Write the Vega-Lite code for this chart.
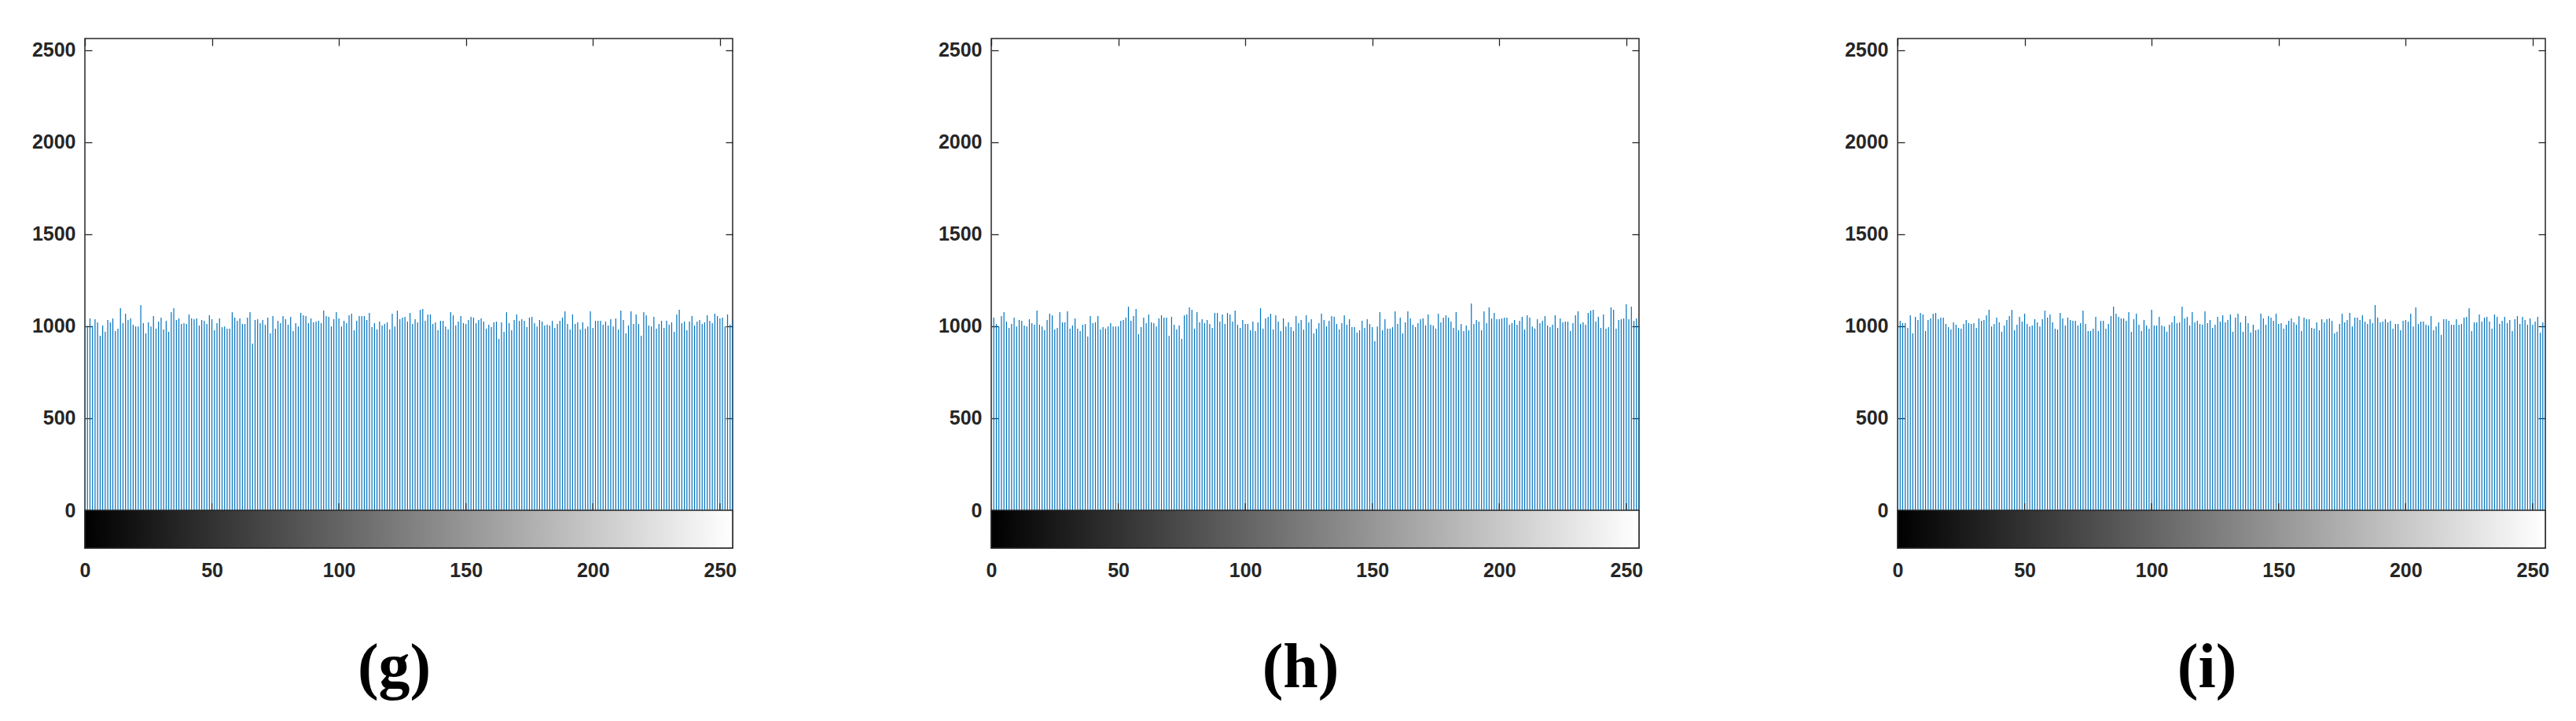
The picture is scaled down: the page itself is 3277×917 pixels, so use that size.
{
"$schema":"https://vega.github.io/schema/vega-lite/v6.json",
"background":"white",
"padding":{"left":39,"top":47,"right":0,"bottom":0},
"config":{
 "view":{"stroke":"#262626","strokeWidth":1.5},
 "axis":{"domain":false,"grid":false,"labelFont":"Liberation Sans","labelFontSize":25,"labelFontWeight":"bold","labelColor":"#262626","tickColor":"#262626","tickSize":-9,"tickWidth":1.3,"title":null,"labelFlush":false,"labelOverlap":false,"minExtent":0}
},
"datasets":{
"ticks":[{"t":50},{"t":100},{"t":150},{"t":200},{"t":250}],
"g":[{"b":0,"c":1031},{"b":1,"c":1002},{"b":2,"c":1042},{"b":3,"c":1002},{"b":4,"c":1038},{"b":5,"c":1021},{"b":6,"c":948},{"b":7,"c":1004},{"b":8,"c":970},{"b":9,"c":1034},
{"b":10,"c":1021},{"b":11,"c":1042},{"b":12,"c":974},{"b":13,"c":987},{"b":14,"c":1098},{"b":15,"c":1017},{"b":16,"c":1068},{"b":17,"c":1034},{"b":18,"c":1042},{"b":19,"c":1008},
{"b":20,"c":999},{"b":21,"c":999},{"b":22,"c":1115},{"b":23,"c":1017},{"b":24,"c":961},{"b":25,"c":1021},{"b":26,"c":999},{"b":27,"c":1055},{"b":28,"c":987},{"b":29,"c":1025},
{"b":30,"c":1047},{"b":31,"c":982},{"b":32,"c":1029},{"b":33,"c":970},{"b":34,"c":1076},{"b":35,"c":1098},{"b":36,"c":1034},{"b":37,"c":1042},{"b":38,"c":1012},{"b":39,"c":1017},
{"b":40,"c":1012},{"b":41,"c":1064},{"b":42,"c":1042},{"b":43,"c":1038},{"b":44,"c":1042},{"b":45,"c":1004},{"b":46,"c":1034},{"b":47,"c":1029},{"b":48,"c":1012},{"b":49,"c":1059},
{"b":50,"c":1038},{"b":51,"c":978},{"b":52,"c":1017},{"b":53,"c":1042},{"b":54,"c":995},{"b":55,"c":999},{"b":56,"c":987},{"b":57,"c":987},{"b":58,"c":1076},{"b":59,"c":1047},
{"b":60,"c":1029},{"b":61,"c":1042},{"b":62,"c":1012},{"b":63,"c":1012},{"b":64,"c":1047},{"b":65,"c":1076},{"b":66,"c":906},{"b":67,"c":1034},{"b":68,"c":1038},{"b":69,"c":1017},
{"b":70,"c":1034},{"b":71,"c":1008},{"b":72,"c":1047},{"b":73,"c":961},{"b":74,"c":1055},{"b":75,"c":987},{"b":76,"c":1029},{"b":77,"c":1017},{"b":78,"c":1055},{"b":79,"c":1038},
{"b":80,"c":1008},{"b":81,"c":1051},{"b":82,"c":974},{"b":83,"c":1017},{"b":84,"c":999},{"b":85,"c":1072},{"b":86,"c":1059},{"b":87,"c":1055},{"b":88,"c":1017},{"b":89,"c":1042},
{"b":90,"c":1021},{"b":91,"c":1025},{"b":92,"c":1029},{"b":93,"c":1017},{"b":94,"c":1085},{"b":95,"c":1055},{"b":96,"c":1051},{"b":97,"c":999},{"b":98,"c":1038},{"b":99,"c":1076},
{"b":100,"c":1042},{"b":101,"c":999},{"b":102,"c":1029},{"b":103,"c":1017},{"b":104,"c":1059},{"b":105,"c":1068},{"b":106,"c":978},{"b":107,"c":1029},{"b":108,"c":1055},{"b":109,"c":1055},
{"b":110,"c":1055},{"b":111,"c":1034},{"b":112,"c":1072},{"b":113,"c":995},{"b":114,"c":1017},{"b":115,"c":982},{"b":116,"c":1025},{"b":117,"c":1004},{"b":118,"c":1012},{"b":119,"c":1021},
{"b":120,"c":982},{"b":121,"c":1068},{"b":122,"c":999},{"b":123,"c":1085},{"b":124,"c":1038},{"b":125,"c":1047},{"b":126,"c":1051},{"b":127,"c":1025},{"b":128,"c":1072},{"b":129,"c":1012},
{"b":130,"c":1038},{"b":131,"c":1021},{"b":132,"c":1089},{"b":133,"c":1094},{"b":134,"c":1029},{"b":135,"c":1064},{"b":136,"c":1064},{"b":137,"c":1012},{"b":138,"c":1021},{"b":139,"c":978},
{"b":140,"c":1029},{"b":141,"c":1029},{"b":142,"c":999},{"b":143,"c":982},{"b":144,"c":1076},{"b":145,"c":1059},{"b":146,"c":1004},{"b":147,"c":1025},{"b":148,"c":1055},{"b":149,"c":1017},
{"b":150,"c":1012},{"b":151,"c":1034},{"b":152,"c":1051},{"b":153,"c":1047},{"b":154,"c":1017},{"b":155,"c":1034},{"b":156,"c":1042},{"b":157,"c":1025},{"b":158,"c":987},{"b":159,"c":1008},
{"b":160,"c":995},{"b":161,"c":1021},{"b":162,"c":1025},{"b":163,"c":931},{"b":164,"c":1021},{"b":165,"c":970},{"b":166,"c":1076},{"b":167,"c":1017},{"b":168,"c":978},{"b":169,"c":1034},
{"b":170,"c":1064},{"b":171,"c":1029},{"b":172,"c":1038},{"b":173,"c":1029},{"b":174,"c":995},{"b":175,"c":1047},{"b":176,"c":1051},{"b":177,"c":1017},{"b":178,"c":999},{"b":179,"c":1034},
{"b":180,"c":1025},{"b":181,"c":1004},{"b":182,"c":1008},{"b":183,"c":1004},{"b":184,"c":1029},{"b":185,"c":991},{"b":186,"c":1012},{"b":187,"c":1029},{"b":188,"c":1047},{"b":189,"c":1081},
{"b":190,"c":1012},{"b":191,"c":982},{"b":192,"c":1064},{"b":193,"c":1012},{"b":194,"c":1021},{"b":195,"c":982},{"b":196,"c":1021},{"b":197,"c":987},{"b":198,"c":999},{"b":199,"c":1081},
{"b":200,"c":991},{"b":201,"c":1029},{"b":202,"c":1029},{"b":203,"c":1029},{"b":204,"c":1008},{"b":205,"c":1025},{"b":206,"c":1004},{"b":207,"c":1038},{"b":208,"c":999},{"b":209,"c":1042},
{"b":210,"c":982},{"b":211,"c":1085},{"b":212,"c":1034},{"b":213,"c":961},{"b":214,"c":1004},{"b":215,"c":1081},{"b":216,"c":1012},{"b":217,"c":1064},{"b":218,"c":1012},{"b":219,"c":948},
{"b":220,"c":1076},{"b":221,"c":1059},{"b":222,"c":1004},{"b":223,"c":999},{"b":224,"c":1051},{"b":225,"c":987},{"b":226,"c":1012},{"b":227,"c":1029},{"b":228,"c":991},{"b":229,"c":1029},
{"b":230,"c":1008},{"b":231,"c":1021},{"b":232,"c":970},{"b":233,"c":1064},{"b":234,"c":1089},{"b":235,"c":1017},{"b":236,"c":1025},{"b":237,"c":978},{"b":238,"c":1025},{"b":239,"c":1055},
{"b":240,"c":1004},{"b":241,"c":1025},{"b":242,"c":1034},{"b":243,"c":1012},{"b":244,"c":1021},{"b":245,"c":1059},{"b":246,"c":1029},{"b":247,"c":1017},{"b":248,"c":1068},{"b":249,"c":1055},
{"b":250,"c":1042},{"b":251,"c":1047},{"b":252,"c":999},{"b":253,"c":1064},{"b":254,"c":1008},{"b":255,"c":1034}],
"h":[{"b":0,"c":1012},{"b":1,"c":1047},{"b":2,"c":1012},{"b":3,"c":999},{"b":4,"c":1055},{"b":5,"c":1076},{"b":6,"c":1025},{"b":7,"c":991},{"b":8,"c":1012},{"b":9,"c":1047},
{"b":10,"c":999},{"b":11,"c":1034},{"b":12,"c":1029},{"b":13,"c":1004},{"b":14,"c":999},{"b":15,"c":1038},{"b":16,"c":1017},{"b":17,"c":1008},{"b":18,"c":1085},{"b":19,"c":1008},
{"b":20,"c":999},{"b":21,"c":978},{"b":22,"c":1034},{"b":23,"c":1068},{"b":24,"c":1059},{"b":25,"c":982},{"b":26,"c":991},{"b":27,"c":1076},{"b":28,"c":1021},{"b":29,"c":1021},
{"b":30,"c":1081},{"b":31,"c":987},{"b":32,"c":1004},{"b":33,"c":1042},{"b":34,"c":987},{"b":35,"c":974},{"b":36,"c":1008},{"b":37,"c":1012},{"b":38,"c":944},{"b":39,"c":1055},
{"b":40,"c":1017},{"b":41,"c":1021},{"b":42,"c":1055},{"b":43,"c":982},{"b":44,"c":995},{"b":45,"c":987},{"b":46,"c":999},{"b":47,"c":1017},{"b":48,"c":999},{"b":49,"c":999},
{"b":50,"c":999},{"b":51,"c":1029},{"b":52,"c":1034},{"b":53,"c":1047},{"b":54,"c":1106},{"b":55,"c":1029},{"b":56,"c":1055},{"b":57,"c":1094},{"b":58,"c":957},{"b":59,"c":995},
{"b":60,"c":1047},{"b":61,"c":1017},{"b":62,"c":1064},{"b":63,"c":1021},{"b":64,"c":1017},{"b":65,"c":999},{"b":66,"c":1042},{"b":67,"c":1059},{"b":68,"c":1047},{"b":69,"c":1047},
{"b":70,"c":948},{"b":71,"c":1051},{"b":72,"c":1008},{"b":73,"c":982},{"b":74,"c":1004},{"b":75,"c":931},{"b":76,"c":1059},{"b":77,"c":1064},{"b":78,"c":1102},{"b":79,"c":1089},
{"b":80,"c":987},{"b":81,"c":1076},{"b":82,"c":1021},{"b":83,"c":1038},{"b":84,"c":1017},{"b":85,"c":1034},{"b":86,"c":1012},{"b":87,"c":991},{"b":88,"c":1072},{"b":89,"c":1072},
{"b":90,"c":1025},{"b":91,"c":1064},{"b":92,"c":1012},{"b":93,"c":1072},{"b":94,"c":1064},{"b":95,"c":1025},{"b":96,"c":1085},{"b":97,"c":1008},{"b":98,"c":991},{"b":99,"c":1034},
{"b":100,"c":1012},{"b":101,"c":1012},{"b":102,"c":978},{"b":103,"c":1025},{"b":104,"c":974},{"b":105,"c":1021},{"b":106,"c":1098},{"b":107,"c":987},{"b":108,"c":1042},{"b":109,"c":1051},
{"b":110,"c":1068},{"b":111,"c":982},{"b":112,"c":1059},{"b":113,"c":1025},{"b":114,"c":974},{"b":115,"c":1042},{"b":116,"c":999},{"b":117,"c":1021},{"b":118,"c":995},{"b":119,"c":974},
{"b":120,"c":1055},{"b":121,"c":1017},{"b":122,"c":1034},{"b":123,"c":982},{"b":124,"c":1059},{"b":125,"c":1021},{"b":126,"c":1038},{"b":127,"c":961},{"b":128,"c":987},{"b":129,"c":1017},
{"b":130,"c":1068},{"b":131,"c":1034},{"b":132,"c":999},{"b":133,"c":1029},{"b":134,"c":1055},{"b":135,"c":1051},{"b":136,"c":1012},{"b":137,"c":982},{"b":138,"c":1017},{"b":139,"c":1059},
{"b":140,"c":1008},{"b":141,"c":1038},{"b":142,"c":995},{"b":143,"c":995},{"b":144,"c":965},{"b":145,"c":978},{"b":146,"c":1029},{"b":147,"c":991},{"b":148,"c":1038},{"b":149,"c":1012},
{"b":150,"c":995},{"b":151,"c":918},{"b":152,"c":999},{"b":153,"c":1076},{"b":154,"c":978},{"b":155,"c":1038},{"b":156,"c":987},{"b":157,"c":987},{"b":158,"c":995},{"b":159,"c":1081},
{"b":160,"c":1012},{"b":161,"c":1047},{"b":162,"c":961},{"b":163,"c":1021},{"b":164,"c":1081},{"b":165,"c":1042},{"b":166,"c":1008},{"b":167,"c":995},{"b":168,"c":1017},{"b":169,"c":1038},
{"b":170,"c":1042},{"b":171,"c":1004},{"b":172,"c":1064},{"b":173,"c":1008},{"b":174,"c":1004},{"b":175,"c":987},{"b":176,"c":1068},{"b":177,"c":1021},{"b":178,"c":1047},{"b":179,"c":1059},
{"b":180,"c":1047},{"b":181,"c":1025},{"b":182,"c":991},{"b":183,"c":1076},{"b":184,"c":978},{"b":185,"c":1012},{"b":186,"c":974},{"b":187,"c":1004},{"b":188,"c":978},{"b":189,"c":1123},
{"b":190,"c":1012},{"b":191,"c":1034},{"b":192,"c":1025},{"b":193,"c":978},{"b":194,"c":1081},{"b":195,"c":1017},{"b":196,"c":1102},{"b":197,"c":1042},{"b":198,"c":1072},{"b":199,"c":1038},
{"b":200,"c":1038},{"b":201,"c":1042},{"b":202,"c":1047},{"b":203,"c":1047},{"b":204,"c":1008},{"b":205,"c":1017},{"b":206,"c":1034},{"b":207,"c":1008},{"b":208,"c":1029},{"b":209,"c":1051},
{"b":210,"c":982},{"b":211,"c":1059},{"b":212,"c":1047},{"b":213,"c":999},{"b":214,"c":987},{"b":215,"c":1038},{"b":216,"c":1017},{"b":217,"c":1029},{"b":218,"c":1055},{"b":219,"c":1004},
{"b":220,"c":995},{"b":221,"c":1008},{"b":222,"c":1059},{"b":223,"c":991},{"b":224,"c":1042},{"b":225,"c":1021},{"b":226,"c":1025},{"b":227,"c":1025},{"b":228,"c":974},{"b":229,"c":1017},
{"b":230,"c":1059},{"b":231,"c":1081},{"b":232,"c":1012},{"b":233,"c":1021},{"b":234,"c":1008},{"b":235,"c":1072},{"b":236,"c":1085},{"b":237,"c":1089},{"b":238,"c":1025},{"b":239,"c":1051},
{"b":240,"c":991},{"b":241,"c":1064},{"b":242,"c":987},{"b":243,"c":995},{"b":244,"c":1102},{"b":245,"c":1089},{"b":246,"c":987},{"b":247,"c":1034},{"b":248,"c":1038},{"b":249,"c":1042},
{"b":250,"c":1119},{"b":251,"c":1038},{"b":252,"c":1106},{"b":253,"c":1029},{"b":254,"c":1042},{"b":255,"c":1004}],
"i":[{"b":0,"c":999},{"b":1,"c":1029},{"b":2,"c":1017},{"b":3,"c":1017},{"b":4,"c":991},{"b":5,"c":1059},{"b":6,"c":961},{"b":7,"c":1051},{"b":8,"c":1034},{"b":9,"c":1072},
{"b":10,"c":1064},{"b":11,"c":974},{"b":12,"c":1034},{"b":13,"c":1042},{"b":14,"c":1068},{"b":15,"c":1072},{"b":16,"c":1038},{"b":17,"c":1047},{"b":18,"c":1047},{"b":19,"c":1012},
{"b":20,"c":995},{"b":21,"c":982},{"b":22,"c":1021},{"b":23,"c":1008},{"b":24,"c":991},{"b":25,"c":987},{"b":26,"c":1012},{"b":27,"c":1034},{"b":28,"c":1017},{"b":29,"c":1012},
{"b":30,"c":1017},{"b":31,"c":991},{"b":32,"c":1042},{"b":33,"c":1029},{"b":34,"c":1034},{"b":35,"c":1059},{"b":36,"c":1089},{"b":37,"c":999},{"b":38,"c":1012},{"b":39,"c":1047},
{"b":40,"c":1021},{"b":41,"c":970},{"b":42,"c":1004},{"b":43,"c":1034},{"b":44,"c":1055},{"b":45,"c":1089},{"b":46,"c":978},{"b":47,"c":1008},{"b":48,"c":1051},{"b":49,"c":1025},
{"b":50,"c":1068},{"b":51,"c":1012},{"b":52,"c":999},{"b":53,"c":1004},{"b":54,"c":1038},{"b":55,"c":1021},{"b":56,"c":999},{"b":57,"c":1038},{"b":58,"c":1085},{"b":59,"c":1047},
{"b":60,"c":1064},{"b":61,"c":1021},{"b":62,"c":987},{"b":63,"c":982},{"b":64,"c":1072},{"b":65,"c":1042},{"b":66,"c":1004},{"b":67,"c":1047},{"b":68,"c":1034},{"b":69,"c":1029},
{"b":70,"c":1029},{"b":71,"c":1004},{"b":72,"c":1017},{"b":73,"c":1085},{"b":74,"c":1012},{"b":75,"c":974},{"b":76,"c":974},{"b":77,"c":987},{"b":78,"c":1051},{"b":79,"c":974},
{"b":80,"c":1029},{"b":81,"c":1029},{"b":82,"c":987},{"b":83,"c":1012},{"b":84,"c":1055},{"b":85,"c":1106},{"b":86,"c":1068},{"b":87,"c":1051},{"b":88,"c":1042},{"b":89,"c":1042},
{"b":90,"c":1029},{"b":91,"c":1076},{"b":92,"c":970},{"b":93,"c":1038},{"b":94,"c":1068},{"b":95,"c":1008},{"b":96,"c":974},{"b":97,"c":1034},{"b":98,"c":1004},{"b":99,"c":987},
{"b":100,"c":1089},{"b":101,"c":1004},{"b":102,"c":1004},{"b":103,"c":1051},{"b":104,"c":1004},{"b":105,"c":999},{"b":106,"c":970},{"b":107,"c":1008},{"b":108,"c":1021},{"b":109,"c":1055},
{"b":110,"c":1017},{"b":111,"c":1021},{"b":112,"c":1106},{"b":113,"c":1042},{"b":114,"c":1051},{"b":115,"c":1004},{"b":116,"c":1076},{"b":117,"c":1021},{"b":118,"c":1029},{"b":119,"c":1012},
{"b":120,"c":1008},{"b":121,"c":1081},{"b":122,"c":1017},{"b":123,"c":1034},{"b":124,"c":991},{"b":125,"c":1008},{"b":126,"c":1051},{"b":127,"c":1025},{"b":128,"c":1059},{"b":129,"c":1021},
{"b":130,"c":1034},{"b":131,"c":1064},{"b":132,"c":970},{"b":133,"c":1047},{"b":134,"c":1068},{"b":135,"c":1021},{"b":136,"c":970},{"b":137,"c":1055},{"b":138,"c":1017},{"b":139,"c":965},
{"b":140,"c":1008},{"b":141,"c":978},{"b":142,"c":982},{"b":143,"c":1068},{"b":144,"c":1042},{"b":145,"c":1008},{"b":146,"c":1055},{"b":147,"c":1047},{"b":148,"c":1029},{"b":149,"c":1068},
{"b":150,"c":1012},{"b":151,"c":1017},{"b":152,"c":987},{"b":153,"c":1008},{"b":154,"c":1029},{"b":155,"c":1042},{"b":156,"c":1021},{"b":157,"c":1008},{"b":158,"c":1055},{"b":159,"c":974},
{"b":160,"c":1047},{"b":161,"c":1038},{"b":162,"c":1038},{"b":163,"c":991},{"b":164,"c":987},{"b":165,"c":1021},{"b":166,"c":978},{"b":167,"c":1038},{"b":168,"c":1021},{"b":169,"c":1038},
{"b":170,"c":1042},{"b":171,"c":1029},{"b":172,"c":961},{"b":173,"c":970},{"b":174,"c":1012},{"b":175,"c":1068},{"b":176,"c":1021},{"b":177,"c":1034},{"b":178,"c":1072},{"b":179,"c":999},
{"b":180,"c":1047},{"b":181,"c":1047},{"b":182,"c":1034},{"b":183,"c":1059},{"b":184,"c":1025},{"b":185,"c":1012},{"b":186,"c":1038},{"b":187,"c":1017},{"b":188,"c":1115},{"b":189,"c":1047},
{"b":190,"c":1021},{"b":191,"c":1025},{"b":192,"c":1038},{"b":193,"c":1021},{"b":194,"c":1029},{"b":195,"c":987},{"b":196,"c":1012},{"b":197,"c":1012},{"b":198,"c":978},{"b":199,"c":1029},
{"b":200,"c":1034},{"b":201,"c":1025},{"b":202,"c":1068},{"b":203,"c":999},{"b":204,"c":1102},{"b":205,"c":1012},{"b":206,"c":1025},{"b":207,"c":1025},{"b":208,"c":1008},{"b":209,"c":1004},
{"b":210,"c":1055},{"b":211,"c":978},{"b":212,"c":999},{"b":213,"c":1021},{"b":214,"c":953},{"b":215,"c":1038},{"b":216,"c":1038},{"b":217,"c":1029},{"b":218,"c":1008},{"b":219,"c":1008},
{"b":220,"c":1038},{"b":221,"c":1008},{"b":222,"c":1012},{"b":223,"c":1047},{"b":224,"c":1051},{"b":225,"c":1098},{"b":226,"c":974},{"b":227,"c":1021},{"b":228,"c":1021},{"b":229,"c":1064},
{"b":230,"c":1025},{"b":231,"c":1047},{"b":232,"c":1051},{"b":233,"c":1025},{"b":234,"c":987},{"b":235,"c":1064},{"b":236,"c":1051},{"b":237,"c":1012},{"b":238,"c":1029},{"b":239,"c":1051},
{"b":240,"c":1017},{"b":241,"c":1034},{"b":242,"c":974},{"b":243,"c":1038},{"b":244,"c":1055},{"b":245,"c":1012},{"b":246,"c":1051},{"b":247,"c":1034},{"b":248,"c":1008},{"b":249,"c":1042},
{"b":250,"c":1008},{"b":251,"c":1025},{"b":252,"c":1051},{"b":253,"c":965},{"b":254,"c":1021},{"b":255,"c":1008}]
},
"spacing":254,
"hconcat":[
{"title":{"text":"(g)","orient":"bottom","anchor":"middle","frame":"bounds","font":"Liberation Serif","fontSize":80,"fontWeight":"bold","color":"#000000","offset":73,"dx":13},
 "width":824,"height":648,
 "layer":[
  {"data":{"name":"g"},"mark":{"type":"rule","color":"#0072BD","strokeWidth":1.2,"clip":true},
   "encoding":{
    "x":{"field":"b","type":"quantitative","scale":{"domain":[0,255],"nice":false,"zero":false},"axis":{"orient":"bottom","values":[0,50,100,150,200,250],"labelPadding":25}},
    "y":{"field":"c","type":"quantitative","scale":{"domain":[-205,2563],"nice":false,"zero":false},"axis":{"orient":"left","values":[-102.5,0,500,1000,1500,2000,2500],"labelPadding":21,"labelExpr":"datum.value < 0 ? '' : format(datum.value, 'd')"}},
    "y2":{"datum":0}}},
  {"data":{"name":"g"},"mark":{"type":"rule","opacity":0},
   "encoding":{
    "x":{"field":"b","type":"quantitative","axis":{"orient":"top","values":[0,50,100,150,200,250],"labels":false}},
    "y":{"field":"c","type":"quantitative","axis":{"orient":"right","values":[-102.5,0,500,1000,1500,2000,2500],"labels":false}},
    "y2":{"datum":0}}},
  {"data":{"values":[{}]},"mark":{"type":"rect","fill":{"gradient":"linear","x1":0,"y1":0,"x2":1,"y2":0,"stops":[{"offset":0,"color":"#000000"},{"offset":1,"color":"#ffffff"}]}},
   "encoding":{"x":{"datum":0,"type":"quantitative","axis":null},"x2":{"datum":255},"y":{"datum":-205,"type":"quantitative","axis":null},"y2":{"datum":0}}},
  {"data":{"values":[{}]},"mark":{"type":"rect","fill":null,"fillOpacity":0,"stroke":"#262626","strokeWidth":1.5},
   "encoding":{"x":{"datum":0,"type":"quantitative","axis":null},"x2":{"datum":255},"y":{"datum":-205,"type":"quantitative","axis":null},"y2":{"datum":0}}},
  {"data":{"name":"ticks"},"mark":{"type":"rule","color":"#262626","strokeWidth":1.3},
   "encoding":{"x":{"field":"t","type":"quantitative","axis":null},"y":{"datum":0,"type":"quantitative","axis":null},"y2":{"datum":38}}}
 ],
 "resolve":{"axis":{"x":"independent","y":"independent"}}},
{"title":{"text":"(h)","orient":"bottom","anchor":"middle","frame":"bounds","font":"Liberation Serif","fontSize":80,"fontWeight":"bold","color":"#000000","offset":73,"dx":13},
 "width":824,"height":648,
 "layer":[
  {"data":{"name":"h"},"mark":{"type":"rule","color":"#0072BD","strokeWidth":1.2,"clip":true},
   "encoding":{
    "x":{"field":"b","type":"quantitative","scale":{"domain":[0,255],"nice":false,"zero":false},"axis":{"orient":"bottom","values":[0,50,100,150,200,250],"labelPadding":25}},
    "y":{"field":"c","type":"quantitative","scale":{"domain":[-205,2563],"nice":false,"zero":false},"axis":{"orient":"left","values":[-102.5,0,500,1000,1500,2000,2500],"labelPadding":21,"labelExpr":"datum.value < 0 ? '' : format(datum.value, 'd')"}},
    "y2":{"datum":0}}},
  {"data":{"name":"h"},"mark":{"type":"rule","opacity":0},
   "encoding":{
    "x":{"field":"b","type":"quantitative","axis":{"orient":"top","values":[0,50,100,150,200,250],"labels":false}},
    "y":{"field":"c","type":"quantitative","axis":{"orient":"right","values":[-102.5,0,500,1000,1500,2000,2500],"labels":false}},
    "y2":{"datum":0}}},
  {"data":{"values":[{}]},"mark":{"type":"rect","fill":{"gradient":"linear","x1":0,"y1":0,"x2":1,"y2":0,"stops":[{"offset":0,"color":"#000000"},{"offset":1,"color":"#ffffff"}]}},
   "encoding":{"x":{"datum":0,"type":"quantitative","axis":null},"x2":{"datum":255},"y":{"datum":-205,"type":"quantitative","axis":null},"y2":{"datum":0}}},
  {"data":{"values":[{}]},"mark":{"type":"rect","fill":null,"fillOpacity":0,"stroke":"#262626","strokeWidth":1.5},
   "encoding":{"x":{"datum":0,"type":"quantitative","axis":null},"x2":{"datum":255},"y":{"datum":-205,"type":"quantitative","axis":null},"y2":{"datum":0}}},
  {"data":{"name":"ticks"},"mark":{"type":"rule","color":"#262626","strokeWidth":1.3},
   "encoding":{"x":{"field":"t","type":"quantitative","axis":null},"y":{"datum":0,"type":"quantitative","axis":null},"y2":{"datum":38}}}
 ],
 "resolve":{"axis":{"x":"independent","y":"independent"}}},
{"title":{"text":"(i)","orient":"bottom","anchor":"middle","frame":"bounds","font":"Liberation Serif","fontSize":80,"fontWeight":"bold","color":"#000000","offset":73,"dx":13},
 "width":824,"height":648,
 "layer":[
  {"data":{"name":"i"},"mark":{"type":"rule","color":"#0072BD","strokeWidth":1.2,"clip":true},
   "encoding":{
    "x":{"field":"b","type":"quantitative","scale":{"domain":[0,255],"nice":false,"zero":false},"axis":{"orient":"bottom","values":[0,50,100,150,200,250],"labelPadding":25}},
    "y":{"field":"c","type":"quantitative","scale":{"domain":[-205,2563],"nice":false,"zero":false},"axis":{"orient":"left","values":[-102.5,0,500,1000,1500,2000,2500],"labelPadding":21,"labelExpr":"datum.value < 0 ? '' : format(datum.value, 'd')"}},
    "y2":{"datum":0}}},
  {"data":{"name":"i"},"mark":{"type":"rule","opacity":0},
   "encoding":{
    "x":{"field":"b","type":"quantitative","axis":{"orient":"top","values":[0,50,100,150,200,250],"labels":false}},
    "y":{"field":"c","type":"quantitative","axis":{"orient":"right","values":[-102.5,0,500,1000,1500,2000,2500],"labels":false}},
    "y2":{"datum":0}}},
  {"data":{"values":[{}]},"mark":{"type":"rect","fill":{"gradient":"linear","x1":0,"y1":0,"x2":1,"y2":0,"stops":[{"offset":0,"color":"#000000"},{"offset":1,"color":"#ffffff"}]}},
   "encoding":{"x":{"datum":0,"type":"quantitative","axis":null},"x2":{"datum":255},"y":{"datum":-205,"type":"quantitative","axis":null},"y2":{"datum":0}}},
  {"data":{"values":[{}]},"mark":{"type":"rect","fill":null,"fillOpacity":0,"stroke":"#262626","strokeWidth":1.5},
   "encoding":{"x":{"datum":0,"type":"quantitative","axis":null},"x2":{"datum":255},"y":{"datum":-205,"type":"quantitative","axis":null},"y2":{"datum":0}}},
  {"data":{"name":"ticks"},"mark":{"type":"rule","color":"#262626","strokeWidth":1.3},
   "encoding":{"x":{"field":"t","type":"quantitative","axis":null},"y":{"datum":0,"type":"quantitative","axis":null},"y2":{"datum":38}}}
 ],
 "resolve":{"axis":{"x":"independent","y":"independent"}}}
]
}
